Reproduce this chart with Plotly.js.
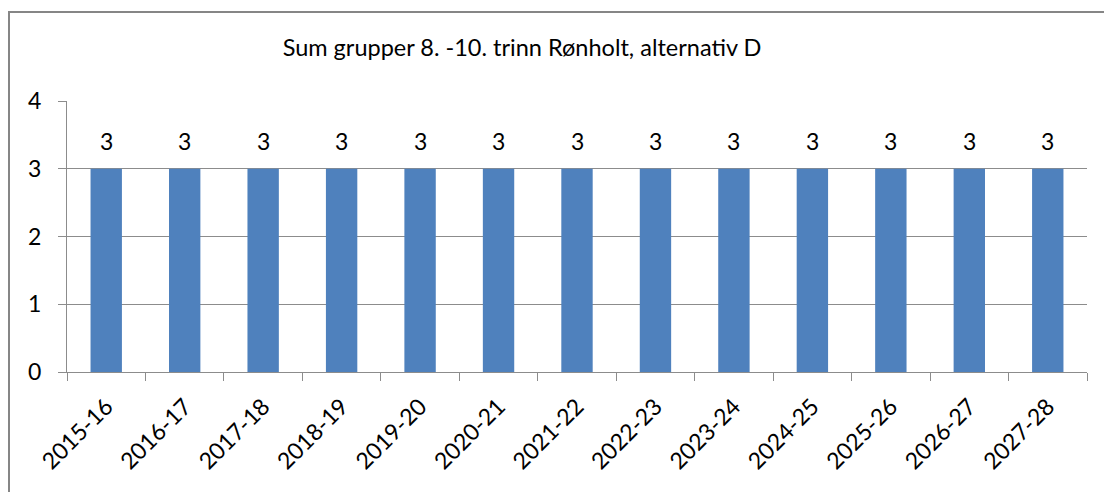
<!DOCTYPE html>
<html>
<head>
<meta charset="utf-8">
<script src="https://cdn.plot.ly/plotly-3.0.1.min.js"></script>
<style>
html,body{margin:0;padding:0;background:#fff;}
#wrap{position:relative;width:1104px;height:492px;}
#chart{width:1104px;height:492px;}
#frame{position:absolute;left:8px;top:11px;right:0;bottom:0;border-left:2px solid #868686;border-top:2px solid #868686;pointer-events:none;}
</style>
</head>
<body>
<div id="wrap"><div id="chart"></div><div id="frame"></div></div>
<script>
var categories = ["2015-16","2016-17","2017-18","2018-19","2019-20","2020-21","2021-22","2022-23","2023-24","2024-25","2025-26","2026-27","2027-28"];
var values = [3,3,3,3,3,3,3,3,3,3,3,3,3];
var yTicks = [0,1,2,3,4];
var titleText = "Sum grupper 8. -10. trinn Rønholt, alternativ D";

var fontFam = "Lato, 'Open Sans', sans-serif";
var gridCol = "#8c8c8c";

var annotations = categories.map(function(c,i){
  return {x:c, y:values[i], text:String(values[i]), showarrow:false, xref:'x', yref:'y',
    yanchor:'middle', yshift:28, font:{family:fontFam,size:23,color:'#000'}};
});

var data = [{
  type:'bar', x:categories, y:values,
  marker:{color:'#4F81BD'},
  hoverinfo:'none'
}];

var layout = {
  width:1104, height:492,
  margin:{l:67, r:17, t:101, b:120},
  paper_bgcolor:'#fff', plot_bgcolor:'#fff',
  bargap:0.6,
  showlegend:false,
  title:{text:titleText, x:522/1104, xanchor:'center', xref:'container', y:1-48/492, yanchor:'middle', yref:'container',
    font:{family:fontFam,size:23.5,color:'#000'}},
  xaxis:{type:'category', showgrid:false, showline:true, linecolor:gridCol, linewidth:1,
    ticks:'outside', tickson:'boundaries', ticklen:8, tickcolor:gridCol, tickwidth:1,
    tickangle:-45, tickfont:{family:fontFam,size:23,color:'#000'}, ticklabelstandoff:11},
  yaxis:{range:[0,4], tickvals:yTicks, ticktext:yTicks.map(String), showgrid:true, gridcolor:gridCol, gridwidth:1,
    showline:true, linecolor:gridCol, linewidth:1, ticks:'outside', ticklen:8, tickcolor:gridCol,
    tickfont:{family:fontFam,size:23,color:'#000'}, ticklabelstandoff:12, zeroline:false},
  annotations:annotations
};

Plotly.newPlot('chart', data, layout, {displayModeBar:false, staticPlot:true});
</script>
</body>
</html>
